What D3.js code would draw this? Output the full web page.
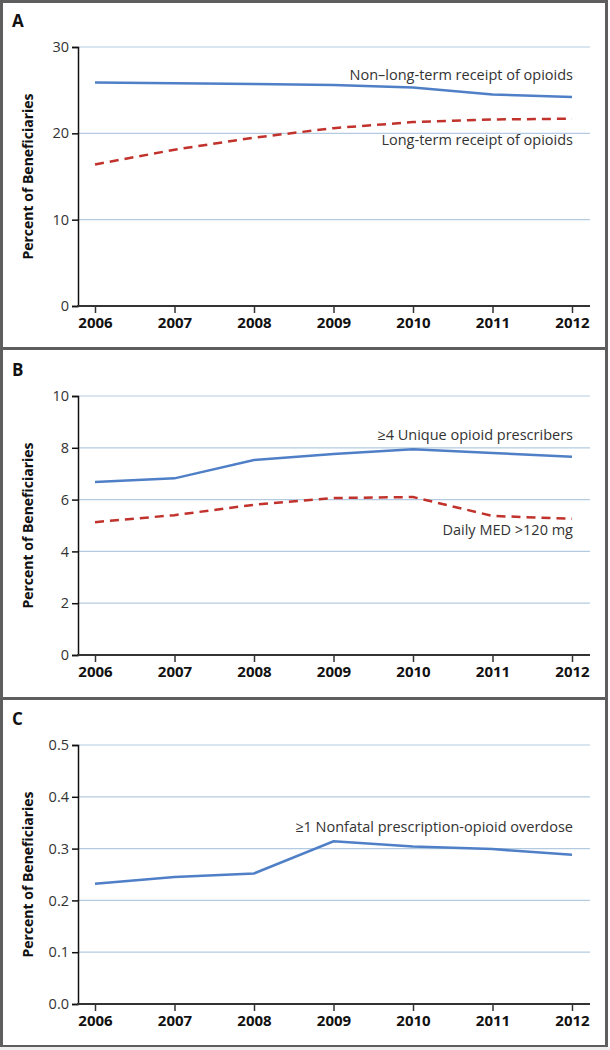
<!DOCTYPE html>
<html>
<head>
<meta charset="utf-8">
<script src="https://cdn.jsdelivr.net/npm/d3@7"></script>
<style>
  body { margin: 0; background: #fff; }
  text { font-family: "Open Sans", "Noto Sans", sans-serif; }
</style>
</head>
<body>
<div id="chart"></div>
<script>
// years shared by all three panels
var years = [2006, 2007, 2008, 2009, 2010, 2011, 2012];

// panel A
var nonLongTerm = [25.9, 25.8, 25.7, 25.6, 25.3, 24.5, 24.2];
var longTerm = [16.4, 18.1, 19.5, 20.6, 21.3, 21.6, 21.7];
var ticksA = [0, 10, 20, 30];

// panel B
var uniquePrescribers = [6.68, 6.82, 7.53, 7.76, 7.94, 7.8, 7.65];
var dailyMed = [5.13, 5.4, 5.8, 6.06, 6.1, 5.37, 5.26];
var ticksB = [0, 2, 4, 6, 8, 10];

// panel C
var overdose = [0.232, 0.245, 0.252, 0.314, 0.304, 0.299, 0.288];
var ticksC = [0, 0.1, 0.2, 0.3, 0.4, 0.5];

var W = 610, H = 1050;
var blue = '#4f7fc6', red = '#c0322b';

var svg = d3.select("#chart").append("svg")
            .attr("width", W)
            .attr("height", H);

// grey frame, panels are white boxes on top
svg.append("rect").attr("x", 0).attr("y", 0).attr("width", 608).attr("height", 1047).style("fill", "#5e5e5e");
svg.append("rect").attr("x", 0).attr("y", 1047).attr("width", W).attr("height", 3).style("fill", "#eeeeee");

var x = d3.scalePoint().domain(years).range([95, 572]);

var panels = [
  { label: 'A', top: 0, ticks: ticksA, fmt: d3.format("d"),
    series: [
      { vals: nonLongTerm, color: blue, dash: null, text: 'Non\u2013long-term receipt of opioids', ty: 80 },
      { vals: longTerm, color: red, dash: '9,6', text: 'Long-term receipt of opioids', ty: 145 }
    ] },
  { label: 'B', top: 349, ticks: ticksB, fmt: d3.format("d"),
    series: [
      { vals: uniquePrescribers, color: blue, dash: null, text: '\u22654 Unique opioid prescribers', ty: 440 - 349 },
      { vals: dailyMed, color: red, dash: '9,6', text: 'Daily MED >120 mg', ty: 535 - 349 }
    ] },
  { label: 'C', top: 698, ticks: ticksC, fmt: d3.format(".1f"),
    series: [
      { vals: overdose, color: blue, dash: null, text: '\u22651 Nonfatal prescription-opioid overdose', ty: 832 - 698 }
    ] }
];

panels.forEach(function(p, i) {
  var bottoms = [347, 697, 1045];
  var tops = [3, 350, 700];
  svg.append("rect")
     .attr("x", 3).attr("y", tops[i])
     .attr("width", 602).attr("height", bottoms[i] - tops[i])
     .style("fill", "white");

  var g = svg.append("g").attr("transform", "translate(0," + p.top + ")");
  var y = d3.scaleLinear().domain([0, d3.max(p.ticks)]).range([306, 47]);

  g.append("text").text(p.label)
   .attr("x", 12).attr("y", 27)
   .style("font-size", "17px").style("font-weight", "bold").style("fill", "#111");

  // gridlines
  g.selectAll("line.grid").data(p.ticks.slice(1)).enter()
   .append("line").attr("class", "grid")
   .attr("x1", 78).attr("x2", 590)
   .attr("y1", function(d) { return y(d); }).attr("y2", function(d) { return y(d); })
   .attr("stroke", "#b3cbe0").attr("stroke-width", 1.2);

  // y axis
  var ya = g.append("g").attr("transform", "translate(78,0)")
            .call(d3.axisLeft(y).tickValues(p.ticks).tickFormat(p.fmt).tickSize(6).tickPadding(3));
  ya.select(".domain").attr("stroke", "#111").attr("stroke-width", 1.5);
  ya.selectAll(".tick line").attr("stroke", "#111").attr("stroke-width", 1.5);
  ya.selectAll(".tick text").style("font-size", "14.5px").style("fill", "#333").style("font-family", "Open Sans");

  // x axis
  var xa = g.append("g").attr("transform", "translate(0,306)")
            .call(d3.axisBottom(x).tickSize(7).tickPadding(4));
  xa.select(".domain").attr("d", "M77,0H590").attr("stroke", "#333").attr("stroke-width", 2);
  xa.selectAll(".tick line").attr("stroke", "#333").attr("stroke-width", 1.5);
  xa.selectAll(".tick text").style("font-size", "15px").style("font-weight", "bold").style("fill", "#111").style("font-family", "Open Sans");

  g.append("text").text("Percent of Beneficiaries")
   .attr("transform", "translate(33," + ((306 + 47) / 2) + ") rotate(-90)")
   .attr("text-anchor", "middle")
   .style("font-size", "14px").style("font-weight", "bold").style("fill", "#111");

  var line = d3.line()
    .x(function(d, k) { return x(years[k]); })
    .y(function(d) { return y(d); });

  p.series.forEach(function(s) {
    g.append("path").datum(s.vals)
     .attr("d", line)
     .attr("fill", "none")
     .attr("stroke", s.color)
     .attr("stroke-width", 2.5)
     .attr("stroke-dasharray", s.dash);
    g.append("text").text(s.text)
     .attr("x", 573).attr("y", s.ty)
     .attr("text-anchor", "end")
     .style("font-size", "14.5px").style("fill", "#333");
  });
});
</script>
</body>
</html>
